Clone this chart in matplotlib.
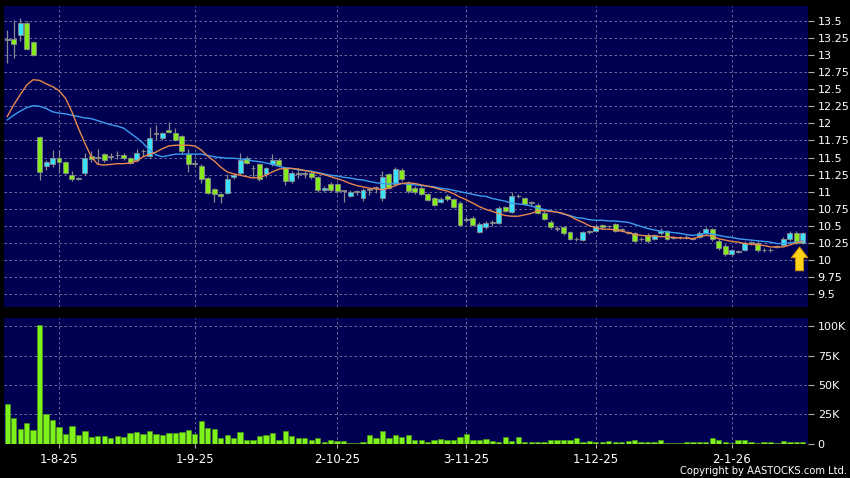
import matplotlib
matplotlib.use("Agg")
import matplotlib.pyplot as plt
import numpy as np

# ---------------- data ----------------
opens = [13.22, 13.23, 13.29, 13.47, 13.19, 11.80, 11.38, 11.40, 11.49, 11.43,
         11.24, 11.19, 11.27, 11.52, 11.50, 11.55, 11.51, 11.53, 11.54, 11.49,
         11.46, 11.59, 11.52, 11.84, 11.79, 11.91, 11.86, 11.81, 11.55, 11.41,
         11.38, 11.20, 11.04, 10.97, 10.98, 11.21, 11.27, 11.50, 11.34, 11.40,
         11.26, 11.40, 11.47, 11.34, 11.16, 11.26, 11.26, 11.28, 11.21, 11.03,
         11.11, 11.11, 11.01, 10.94, 11.00, 10.90, 11.03, 11.06, 10.90, 11.26,
         11.11, 11.31, 11.13, 11.06, 11.05, 10.96, 10.90, 10.85, 10.94, 10.89,
         10.84, 10.58, 10.61, 10.41, 10.48, 10.54, 10.54, 10.77, 10.70, 10.93,
         10.90, 10.84, 10.81, 10.69, 10.56, 10.46, 10.48, 10.41, 10.30, 10.29,
         10.41, 10.43, 10.51, 10.49, 10.52, 10.44, 10.40, 10.39, 10.30, 10.37,
         10.31, 10.39, 10.42, 10.32, 10.33, 10.33, 10.31, 10.34, 10.39, 10.45,
         10.28, 10.21, 10.08, 10.12, 10.15, 10.25, 10.25, 10.14, 10.14, 10.19,
         10.22, 10.30, 10.40, 10.25]
highs = [13.37, 13.51, 13.54, 13.50, 13.20, 11.81, 11.47, 11.61, 11.61, 11.45,
         11.30, 11.22, 11.56, 11.60, 11.62, 11.57, 11.56, 11.60, 11.56, 11.51,
         11.62, 11.62, 11.95, 11.97, 11.88, 12.02, 11.93, 11.83, 11.62, 11.46,
         11.40, 11.22, 11.06, 10.98, 11.26, 11.27, 11.57, 11.52, 11.39, 11.42,
         11.36, 11.55, 11.50, 11.36, 11.30, 11.34, 11.30, 11.30, 11.23, 11.08,
         11.14, 11.13, 11.03, 11.02, 11.03, 11.06, 11.05, 11.08, 11.30, 11.28,
         11.36, 11.35, 11.15, 11.09, 11.08, 10.98, 10.92, 10.92, 10.97, 10.91,
         10.86, 10.63, 10.64, 10.55, 10.57, 10.58, 10.79, 10.79, 11.00, 10.97,
         10.92, 10.87, 10.83, 10.71, 10.58, 10.50, 10.50, 10.43, 10.33, 10.43,
         10.44, 10.53, 10.53, 10.51, 10.54, 10.47, 10.43, 10.41, 10.33, 10.39,
         10.38, 10.47, 10.44, 10.35, 10.35, 10.36, 10.34, 10.42, 10.48, 10.47,
         10.30, 10.23, 10.16, 10.15, 10.27, 10.28, 10.27, 10.17, 10.17, 10.22,
         10.33, 10.43, 10.42, 10.41]
lows = [12.88, 12.96, 13.20, 13.08, 12.99, 11.17, 11.32, 11.36, 11.27, 11.26,
        11.15, 11.17, 11.24, 11.44, 11.40, 11.44, 11.46, 11.48, 11.46, 11.40,
        11.44, 11.52, 11.49, 11.76, 11.75, 11.86, 11.74, 11.55, 11.29, 11.36,
        11.12, 10.97, 10.85, 10.84, 10.96, 11.18, 11.25, 11.40, 11.22, 11.16,
        11.22, 11.38, 11.37, 11.10, 11.12, 11.20, 11.20, 11.18, 11.00, 11.00,
        11.00, 10.98, 10.85, 10.92, 10.95, 10.87, 10.95, 10.98, 10.86, 11.04,
        11.09, 11.16, 10.98, 10.97, 10.95, 10.86, 10.79, 10.83, 10.87, 10.76,
        10.49, 10.55, 10.49, 10.39, 10.46, 10.50, 10.52, 10.70, 10.68, 10.90,
        10.80, 10.81, 10.67, 10.58, 10.46, 10.42, 10.37, 10.29, 10.27, 10.27,
        10.38, 10.41, 10.46, 10.47, 10.41, 10.42, 10.38, 10.26, 10.28, 10.25,
        10.29, 10.37, 10.29, 10.30, 10.31, 10.31, 10.29, 10.32, 10.37, 10.28,
        10.15, 10.06, 10.06, 10.10, 10.13, 10.22, 10.12, 10.12, 10.12, 10.17,
        10.20, 10.28, 10.23, 10.23]
closes = [13.22, 13.17, 13.47, 13.09, 13.00, 11.29, 11.44, 11.49, 11.43, 11.28,
          11.18, 11.20, 11.50, 11.48, 11.50, 11.46, 11.51, 11.53, 11.49, 11.42,
          11.57, 11.59, 11.79, 11.84, 11.86, 11.87, 11.76, 11.60, 11.40, 11.41,
          11.18, 10.98, 10.97, 10.94, 11.18, 11.24, 11.46, 11.42, 11.34, 11.19,
          11.34, 11.47, 11.39, 11.15, 11.28, 11.26, 11.26, 11.21, 11.03, 11.06,
          11.02, 11.01, 11.01, 11.00, 11.00, 11.03, 11.03, 11.06, 11.22, 11.06,
          11.33, 11.18, 11.01, 10.99, 10.97, 10.88, 10.81, 10.89, 10.89, 10.78,
          10.51, 10.60, 10.51, 10.52, 10.54, 10.54, 10.76, 10.72, 10.94, 10.93,
          10.82, 10.84, 10.69, 10.60, 10.48, 10.46, 10.39, 10.31, 10.30, 10.41,
          10.41, 10.50, 10.48, 10.49, 10.43, 10.44, 10.40, 10.28, 10.30, 10.27,
          10.36, 10.43, 10.31, 10.32, 10.33, 10.33, 10.31, 10.40, 10.45, 10.30,
          10.17, 10.08, 10.14, 10.12, 10.25, 10.25, 10.14, 10.14, 10.14, 10.19,
          10.31, 10.40, 10.25, 10.40]

ma_short = [12.10, 12.27, 12.42, 12.56, 12.64, 12.63, 12.58, 12.54, 12.48, 12.37,
            12.17, 11.93, 11.71, 11.51, 11.40, 11.39, 11.40, 11.41, 11.41, 11.42,
            11.45, 11.51, 11.55, 11.58, 11.63, 11.67, 11.68, 11.68, 11.68, 11.67,
            11.61, 11.52, 11.45, 11.36, 11.29, 11.26, 11.24, 11.22, 11.20, 11.21,
            11.24, 11.29, 11.33, 11.34, 11.34, 11.33, 11.31, 11.29, 11.27, 11.25,
            11.22, 11.19, 11.16, 11.12, 11.09, 11.07, 11.05, 11.04, 11.03, 11.05,
            11.09, 11.12, 11.13, 11.12, 11.10, 11.08, 11.06, 11.03, 11.01, 10.97,
            10.92, 10.88, 10.83, 10.78, 10.74, 10.71, 10.68, 10.65, 10.64, 10.64,
            10.66, 10.68, 10.72, 10.72, 10.71, 10.70, 10.68, 10.64, 10.59, 10.55,
            10.50, 10.47, 10.45, 10.45, 10.44, 10.42, 10.40, 10.37, 10.36, 10.35,
            10.35, 10.34, 10.34, 10.33, 10.32, 10.32, 10.31, 10.34, 10.36, 10.35,
            10.31, 10.29, 10.27, 10.26, 10.24, 10.23, 10.22, 10.21, 10.19, 10.19,
            10.19, 10.22, 10.25, 10.27]
ma_long = [12.05, 12.12, 12.18, 12.23, 12.26, 12.25, 12.22, 12.17, 12.15, 12.14,
           12.12, 12.10, 12.08, 12.07, 12.04, 12.01, 11.98, 11.96, 11.93, 11.86,
           11.79, 11.71, 11.61, 11.54, 11.51, 11.53, 11.55, 11.55, 11.55, 11.55,
           11.55, 11.53, 11.51, 11.50, 11.49, 11.49, 11.48, 11.47, 11.45, 11.44,
           11.42, 11.40, 11.37, 11.35, 11.34, 11.32, 11.31, 11.30, 11.28, 11.26,
           11.24, 11.23, 11.21, 11.20, 11.18, 11.17, 11.15, 11.13, 11.12, 11.11,
           11.12, 11.12, 11.11, 11.10, 11.09, 11.08, 11.07, 11.05, 11.04, 11.02,
           11.00, 10.98, 10.96, 10.94, 10.93, 10.90, 10.88, 10.86, 10.83, 10.82,
           10.81, 10.79, 10.76, 10.74, 10.72, 10.70, 10.67, 10.65, 10.62, 10.61,
           10.59, 10.58, 10.58, 10.57, 10.57, 10.56, 10.55, 10.52, 10.49, 10.46,
           10.44, 10.42, 10.41, 10.40, 10.39, 10.37, 10.36, 10.37, 10.39, 10.38,
           10.36, 10.34, 10.33, 10.31, 10.30, 10.29, 10.28, 10.27, 10.26, 10.24,
           10.24, 10.25, 10.26, 10.28]

volume_k = [33.6, 22.1, 12.1, 17.8, 11.2, 101.4, 25.0, 19.8, 14.4, 8.3,
            14.9, 7.2, 10.6, 5.7, 6.3, 6.3, 4.3, 6.6, 5.2, 8.9,
            9.5, 7.8, 10.6, 8.0, 6.9, 9.2, 8.6, 9.5, 11.8, 8.0,
            19.0, 13.2, 12.6, 4.9, 6.9, 4.3, 9.8, 2.6, 2.6, 6.0,
            7.2, 8.9, 3.4, 10.6, 6.0, 4.3, 4.6, 2.6, 4.9, 1.7,
            3.2, 2.3, 2.3, 0.3, 0.3, 1.4, 6.9, 4.6, 10.3, 4.6,
            6.9, 5.2, 6.9, 2.6, 2.6, 0.9, 3.4, 3.7, 2.9, 2.9,
            5.2, 8.0, 3.4, 2.6, 4.0, 2.0, 1.7, 5.5, 2.3, 5.5,
            0.9, 1.4, 0.9, 0.9, 2.6, 3.4, 2.6, 2.6, 4.6, 1.7,
            2.0, 0.9, 1.1, 2.0, 1.1, 1.7, 2.0, 2.6, 1.1, 1.1,
            1.4, 2.9, 0.6, 0.6, 0.6, 1.1, 1.7, 1.7, 0.9, 4.9,
            3.2, 1.7, 0.3, 2.9, 2.6, 0.9, 0.6, 0.9, 1.4, 0.6,
            2.3, 1.7, 1.1, 0.9]

date_tick_idx = [8, 29, 51, 71, 91, 112]
date_tick_labels = ["1-8-25", "1-9-25", "2-10-25", "3-11-25", "1-12-25", "2-1-26"]
price_ticks = [9.5, 9.75, 10, 10.25, 10.5, 10.75, 11, 11.25, 11.5, 11.75,
               12, 12.25, 12.5, 12.75, 13, 13.25, 13.5]
vol_ticks = [0, 25000, 50000, 75000, 100000]
vol_tick_labels = ["0", "25K", "50K", "75K", "100K"]
arrow_idx = 122.5
arrow_tip = 10.19
arrow_base = 9.84

# ---------------- style ----------------
BG = "#000052"
UP = "#3ae2ff"
DOWN = "#86ea1e"
FLAT = "#a0a0a0"
EDGE = "#8a8a8a"
VOL = "#7ff21c"
GRID = "#7a7aa8"
MA_S = "#e8884c"
MA_L = "#3a9ef0"

W, H = 850, 478
fig = plt.figure(figsize=(W / 100, H / 100), dpi=100, facecolor="black")

left, right = 4, 808
ax1 = fig.add_axes([left / W, 1 - 307 / H, (right - left) / W, (307 - 6) / H])
ax2 = fig.add_axes([left / W, 1 - 443.5 / H, (right - left) / W, (443.5 - 318) / H])

n = len(closes)
x = np.arange(n)

for ax in (ax1, ax2):
    ax.set_facecolor(BG)
    for s in ax.spines.values():
        s.set_visible(False)
    ax.set_xlim(-0.5, 123.8)
    ax.yaxis.tick_right()
    ax.tick_params(axis="y", colors="#b0b0b0", labelcolor="white", length=4,
                   width=0.8, pad=3, labelsize=8)
    ax.set_xticks(date_tick_idx)
    ax.grid(True, color=GRID, linestyle=(0, (3, 3)), linewidth=0.6)
    ax.set_axisbelow(True)

# price panel
ax1.set_ylim(9.31, 13.72)
ax1.set_yticks(price_ticks)
ax1.set_yticklabels(["%g" % t for t in price_ticks])
ax1.tick_params(axis="x", length=0, labelbottom=False)

o = np.array(opens); c = np.array(closes)
hi = np.array(highs); lo = np.array(lows)
ax1.vlines(x, lo, hi, color=EDGE, linewidth=0.9, zorder=2)
cols = [UP if cc > oo else (DOWN if cc < oo else FLAT) for oo, cc in zip(o, c)]
bottoms = np.minimum(o, c)
heights = np.maximum(np.abs(c - o), 0.012)
ax1.bar(x, heights, bottom=bottoms, width=0.76, color=cols, edgecolor=EDGE,
        linewidth=0.6, zorder=3)

ax1.plot(x, ma_long, color=MA_L, linewidth=1.0, zorder=4)
ax1.plot(x, ma_short, color=MA_S, linewidth=1.0, zorder=4)

ax1.annotate("", xy=(arrow_idx, arrow_tip), xytext=(arrow_idx, arrow_base),
             arrowprops=dict(arrowstyle="simple,head_width=1.0,head_length=0.65,tail_width=0.48",
                             mutation_scale=12, fc="#ffd21a", ec="#d08a00", lw=0.6,
                             shrinkA=0, shrinkB=0),
             zorder=6)

# volume panel
vol = np.array(volume_k) * 1000
ax2.bar(x, vol, width=0.82, color=VOL, edgecolor="#4fa010", linewidth=0.4, zorder=3)
ax2.set_ylim(0, 107000)
ax2.set_yticks(vol_ticks)
ax2.set_yticklabels(vol_tick_labels)
ax2.set_xticklabels(date_tick_labels)
ax2.tick_params(axis="x", colors="#b0b0b0", labelcolor="white", length=3,
                width=0.8, pad=3.5, labelsize=8.5)

fig.text(847 / W, 1 - 471.5 / H, "Copyright by AASTOCKS.com Ltd.", color="white",
         fontsize=7.2, ha="right", va="center")

fig.savefig("out.png", dpi=100, facecolor="black")
